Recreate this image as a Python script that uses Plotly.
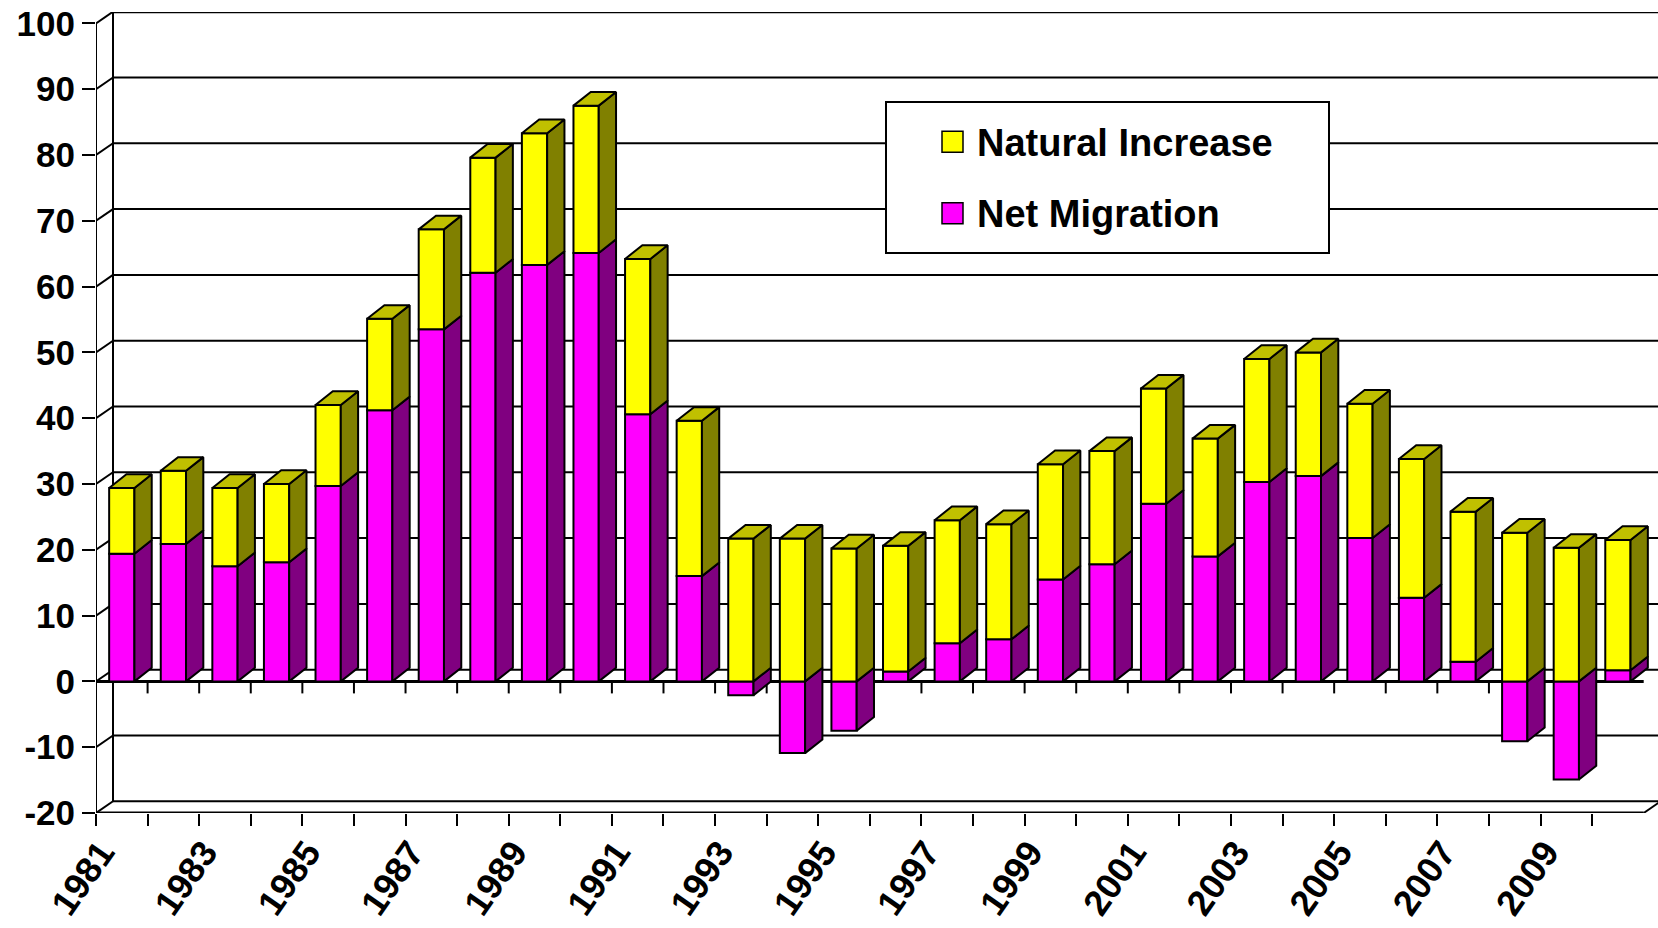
import plotly.graph_objects as go

# ---------------- data ----------------
years = list(range(1981, 2011))
net_migration = [19.4, 20.9, 17.5, 18.1, 29.7, 41.2, 53.5, 62.1, 63.3, 65.1,
                 40.6, 16.0, -2.1, -10.9, -7.5, 1.5, 5.8, 6.4, 15.5, 17.8,
                 27.0, 19.0, 30.3, 31.2, 21.8, 12.7, 3.0, -9.1, -14.9, 1.7]
natural_increase = [10.0, 11.1, 11.9, 11.9, 12.3, 13.9, 15.2, 17.5, 20.0, 22.4,
                    23.6, 23.6, 21.7, 21.7, 20.2, 19.1, 18.7, 17.5, 17.5, 17.2,
                    17.5, 17.9, 18.7, 18.8, 20.4, 21.1, 22.8, 22.6, 20.3, 19.8]
y_ticks = list(range(-20, 101, 10))
label_years = years[::2]

# ---------------- geometry (style constants) ----------------
OFF = 0                      # page body margin is removed below
W, H = 1658 - OFF, 928 - OFF
ML, MR, MT, MB = 96, 0, 12, 115
PX_PER_CAT = 51.59
PX_PER_UNIT = 6.58
plot_w = W - ML - MR
plot_h = H - MT - MB
XMAX = plot_w / PX_PER_CAT
YMIN = -20
YMAX = YMIN + plot_h / PX_PER_UNIT
NCAT = len(years)

WALL_DX = 17 / PX_PER_CAT
WALL_DY = 11.7 / PX_PER_UNIT
BAR_DX = 17.3 / PX_PER_CAT
BAR_DY = 13.7 / PX_PER_UNIT
BAR_W = 0.49
LABEL_SHIFT = 0.4

FONT = "Liberation Sans, Arial, sans-serif"
MAG, MAG_SIDE = "#FF00FF", "#800080"
YEL, YEL_SIDE, YEL_TOP = "#FFFF00", "#808000", "#C0C000"

centers = [i + 0.5 for i in range(NCAT)]

fig = go.Figure()

# front faces
fig.add_trace(go.Bar(x=centers, y=net_migration, width=BAR_W, name="Net Migration",
                     marker=dict(color=MAG, line=dict(color="black", width=2)),
                     hoverinfo="skip", showlegend=False))
fig.add_trace(go.Bar(x=centers, y=natural_increase, width=BAR_W, name="Natural Increase",
                     marker=dict(color=YEL, line=dict(color="black", width=2)),
                     hoverinfo="skip", showlegend=False))

# side and top faces computed from data
mag_x, mag_y, yel_x, yel_y, top_x, top_y = [], [], [], [], [], []
for c, m, n in zip(centers, net_migration, natural_increase):
    x0 = c - BAR_W / 2
    x1 = c + BAR_W / 2
    if m >= 0:
        m0, m1 = 0, m
        n0, n1 = m, m + n
    else:
        m0, m1 = m, 0
        n0, n1 = 0, n
    mag_x += [x1, x1 + BAR_DX, x1 + BAR_DX, x1, x1, None]
    mag_y += [m0, m0 + BAR_DY, m1 + BAR_DY, m1, m0, None]
    yel_x += [x1, x1 + BAR_DX, x1 + BAR_DX, x1, x1, None]
    yel_y += [n0, n0 + BAR_DY, n1 + BAR_DY, n1, n0, None]
    top_x += [x0, x0 + BAR_DX, x1 + BAR_DX, x1, x0, None]
    top_y += [n1, n1 + BAR_DY, n1 + BAR_DY, n1, n1, None]

for xs, ys, col in [(mag_x, mag_y, MAG_SIDE), (yel_x, yel_y, YEL_SIDE), (top_x, top_y, YEL_TOP)]:
    fig.add_trace(go.Scatter(x=xs, y=ys, mode="lines", fill="toself", fillcolor=col,
                             line=dict(color="black", width=2), hoverinfo="skip",
                             showlegend=False))

shapes = []
LW = 2
# back wall and gridlines
shapes.append(dict(type="line", xref="x", yref="y", x0=WALL_DX, y0=YMIN + WALL_DY,
                   x1=WALL_DX, y1=100 + WALL_DY, line=dict(color="black", width=LW), layer="below"))
for v in y_ticks:
    shapes.append(dict(type="line", xref="x", yref="y", x0=WALL_DX, y0=v + WALL_DY,
                       x1=XMAX, y1=v + WALL_DY,
                       line=dict(color="black", width=LW + (1 if v == 100 else 0)), layer="below"))
    shapes.append(dict(type="line", xref="x", yref="y", x0=0, y0=v,
                       x1=WALL_DX, y1=v + WALL_DY, line=dict(color="black", width=LW), layer="below"))
# front value axis
shapes.append(dict(type="line", xref="x", yref="y", x0=0, y0=YMIN, x1=0, y1=100,
                   line=dict(color="black", width=LW), layer="below"))
# floor
shapes.append(dict(type="line", xref="x", yref="y", x0=0, y0=YMIN, x1=NCAT, y1=YMIN,
                   line=dict(color="black", width=LW + 1), layer="below"))
shapes.append(dict(type="line", xref="x", yref="y", x0=NCAT, y0=YMIN, x1=NCAT + WALL_DX,
                   y1=YMIN + WALL_DY, line=dict(color="black", width=LW), layer="below"))
# zero line (category axis crossing)
shapes.append(dict(type="line", xref="x", yref="y", x0=0, y0=0, x1=NCAT, y1=0,
                   line=dict(color="black", width=LW + 1), layer="below"))
ZT = 12 / PX_PER_UNIT
for k in range(1, NCAT):
    shapes.append(dict(type="line", xref="x", yref="y", x0=k, y0=0, x1=k, y1=-ZT,
                       line=dict(color="black", width=LW), layer="below"))

# legend (manual), positions given in page pixels
def px_x(p):
    return (p - OFF - ML) / plot_w

def px_y(p):
    return (H - MB - (p - OFF)) / plot_h

shapes.append(dict(type="rect", xref="paper", yref="paper",
                   x0=px_x(886), x1=px_x(1329), y0=px_y(253), y1=px_y(102),
                   fillcolor="white", line=dict(color="black", width=2), layer="above"))
legend_items = [("Natural Increase", YEL, 141.7), ("Net Migration", MAG, 213.3)]
annotations = []
for name, col, cy in legend_items:
    shapes.append(dict(type="rect", xref="paper", yref="paper",
                       x0=px_x(942), x1=px_x(963), y0=px_y(cy + 10.5), y1=px_y(cy - 10.5),
                       fillcolor=col, line=dict(color="black", width=1.5), layer="above"))
    annotations.append(dict(xref="paper", yref="paper", x=px_x(975), y=px_y(cy + 1),
                            xanchor="left", yanchor="middle", showarrow=False, text=name,
                            font=dict(family=FONT, size=38, color="black", weight="bold")))

fig.update_layout(
    width=W, height=H,
    margin=dict(l=ML, r=MR, t=MT, b=MB, autoexpand=False),
    barmode="relative",
    paper_bgcolor="white", plot_bgcolor="white",
    showlegend=False,
    shapes=shapes, annotations=annotations,
    xaxis=dict(range=[0, XMAX], showgrid=False, zeroline=False, showline=False,
               tickvals=[centers[i] - LABEL_SHIFT for i in range(0, NCAT, 2)],
               ticktext=[str(y) for y in label_years],
               ticks="", tickangle=-55, ticklabelstandoff=10,
               ticklabeloverflow="allow",
               tickfont=dict(family=FONT, size=36, color="black", weight="bold"),
               minor=dict(tickvals=list(range(NCAT)), ticks="outside", ticklen=12,
                          tickwidth=2, tickcolor="black"),
               fixedrange=True),
    yaxis=dict(range=[YMIN, YMAX], showgrid=False, zeroline=False, showline=False,
               tickvals=y_ticks, ticktext=[str(v) for v in y_ticks],
               ticks="outside", ticklen=13, tickwidth=2, tickcolor="black",
               ticklabeloverflow="allow",
               tickfont=dict(family=FONT, size=35, color="black", weight="bold"),
               fixedrange=True),
)

fig.write_html("out.html", config={"displayModeBar": False, "staticPlot": True},
               post_script="document.body.style.margin='0';document.body.style.overflow='hidden';")
